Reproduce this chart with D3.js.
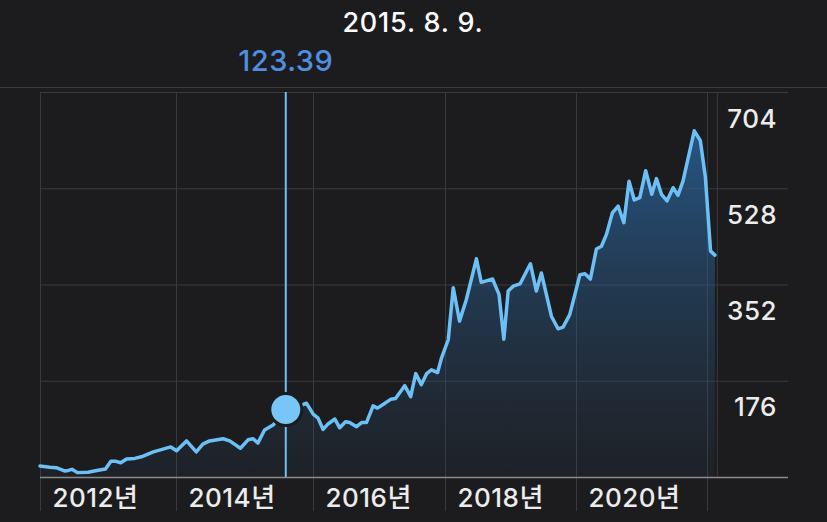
<!DOCTYPE html>
<html>
<head>
<meta charset="utf-8">
<script src="https://cdn.jsdelivr.net/npm/d3@7/dist/d3.min.js"></script>
<style>
  html, body { margin: 0; padding: 0; background: #1c1c1e; }
  svg { display: block; }
  text { font-family: Inter, "Noto Sans CJK KR", "Noto Sans", sans-serif; }
</style>
</head>
<body>
<svg id="chart" width="827" height="522"></svg>
<script>
// ---- data ----
const dates = [
  "2012-01-01","2012-02-23","2012-03-28","2012-05-12","2012-06-01","2012-06-21","2012-07-20","2012-09-15","2012-11-01","2012-12-18",
  "2013-01-16","2013-02-08","2013-03-10","2013-04-10","2013-05-24","2013-06-29","2013-09-01","2013-10-23","2013-12-04",
  "2014-01-04","2014-02-26","2014-04-19","2014-05-24","2014-06-29","2014-09-09","2014-10-14","2014-12-10",
  "2015-01-20","2015-02-16","2015-03-13","2015-04-18","2015-06-02","2015-08-09","2015-10-01","2015-11-27",
  "2016-01-02","2016-01-29","2016-02-26","2016-03-24","2016-05-01","2016-05-28","2016-06-29","2016-07-22","2016-08-29","2016-09-26","2016-10-23","2016-11-29","2016-12-23",
  "2017-02-03","2017-03-06","2017-04-02","2017-05-23","2017-06-25","2017-07-23","2017-08-23","2017-09-21","2017-10-18","2017-11-21","2017-12-13",
  "2018-01-19","2018-02-16","2018-03-23","2018-04-30","2018-06-25","2018-07-22","2018-09-23","2018-10-29","2018-11-25","2018-12-19",
  "2019-01-16","2019-02-23","2019-04-22","2019-05-25","2019-06-22","2019-08-17","2019-09-23","2019-10-21","2019-11-27","2019-12-26",
  "2020-01-23","2020-02-20","2020-03-21","2020-04-24","2020-05-22","2020-06-19","2020-07-22","2020-08-23","2020-09-24","2020-10-23","2020-11-21","2020-12-22",
  "2021-01-24","2021-02-27","2021-03-25","2021-04-22","2021-05-23","2021-06-26","2021-07-23","2021-08-20","2021-10-22","2021-11-25","2021-12-23",
  "2022-01-21","2022-02-14"
];
const values = [
  20, 18, 17, 11, 12, 14, 8, 8.6, 12, 14.7,
  29, 29, 26, 33, 34, 37, 46, 51, 55,
  48, 66, 46, 60, 66, 70, 66, 52.6,
  68, 70, 62, 86, 95, 123.39, 127, 135,
  115, 107.6, 87, 97, 106, 90, 101, 99.6, 92, 99.6, 99.6, 130, 126,
  135, 142, 143.5, 167, 147, 189, 169, 189, 196, 191, 218,
  251, 346, 285, 324.5, 399, 356, 362, 334, 252, 340,
  349, 353, 390, 340, 373, 294, 271, 274, 297, 334,
  370, 371.5, 362, 417, 422, 443.6, 483, 495.5, 465, 541, 506.5, 511,
  560, 517, 545.7, 517, 505, 529, 515, 541, 633, 615, 548,
  413, 405.7
];
const yTickValues = [176, 352, 528, 704];
const xGridDates = ["2012-01-01","2014-01-01","2016-01-01","2018-01-01","2020-01-01","2022-01-01"];
const xTickLabels = ["2012년","2014년","2016년","2018년","2020년",""];
const selectedDate = "2015-08-09";
const selectedValue = 123.39;
const selectedLabel = "2015. 8. 9.";
const endDate = "2022-02-25";

// ---- scales ----
const parse = d3.timeParse("%Y-%m-%d");
const data = dates.map((d, i) => ({ date: parse(d), value: values[i] }));

const x = d3.scaleTime()
  .domain(xGridDates.map(parse))
  .range([40, 176, 313, 445, 576, 707]);
const y = d3.scaleLinear().domain([0, 704]).range([477, 92]);

const svg = d3.select("#chart");

svg.append("rect").attr("width", 827).attr("height", 522).attr("fill", "#1c1c1e");

// header separator
svg.append("line").attr("x1", 0).attr("x2", 827).attr("y1", 87.5).attr("y2", 87.5)
  .attr("stroke", "#3c3c3f").attr("stroke-width", 1);

// gradient
const defs = svg.append("defs");
const grad = defs.append("linearGradient").attr("id", "fillGrad")
  .attr("gradientUnits", "userSpaceOnUse").attr("x1", 0).attr("x2", 0)
  .attr("y1", y(640)).attr("y2", y(0));
grad.append("stop").attr("offset", "0%").attr("stop-color", "#2a6aa8").attr("stop-opacity", 0.75);
grad.append("stop").attr("offset", "100%").attr("stop-color", "#2a4a6a").attr("stop-opacity", 0.12);

// y grid + labels
const yAxis = svg.append("g").attr("transform", "translate(40,0)")
  .call(d3.axisRight(y).tickValues(yTickValues).tickSize(748).tickFormat(d3.format("d")));
yAxis.select(".domain").remove();
yAxis.selectAll(".tick line").attr("stroke", "#3a3a3d").attr("stroke-width", 1);
yAxis.selectAll(".tick text")
  .attr("x", 737).attr("y", 35).attr("dy", 0)
  .attr("text-anchor", "end")
  .attr("fill", "#ececec")
  .attr("font-size", 26)
  .attr("font-weight", 500)
  .attr("letter-spacing", 0.5);

// x grid + labels
const xAxis = svg.append("g").attr("transform", "translate(0,511)")
  .call(d3.axisBottom(x).tickValues(xGridDates.map(parse)).tickSize(-419)
    .tickFormat((d, i) => xTickLabels[i]));
xAxis.select(".domain").remove();
xAxis.selectAll(".tick line").attr("stroke", "#3a3a3d").attr("stroke-width", 1);
xAxis.selectAll(".tick text")
  .attr("x", 12).attr("y", -4).attr("dy", 0)
  .attr("text-anchor", "start")
  .attr("fill", "#ececec")
  .attr("font-size", 26)
  .attr("font-weight", 500)
  .attr("letter-spacing", 0.5);

// end line
svg.append("line")
  .attr("x1", x(parse(endDate)) + 0.5).attr("x2", x(parse(endDate)) + 0.5)
  .attr("y1", 92).attr("y2", 477)
  .attr("stroke", "#3a3a3d").attr("stroke-width", 1);

// area
const area = d3.area().x(d => x(d.date)).y0(y(0)).y1(d => y(d.value));
svg.append("path").datum(data).attr("d", area).attr("fill", "url(#fillGrad)");

// bottom axis line
svg.append("line").attr("x1", 40).attr("x2", 788).attr("y1", 477.5).attr("y2", 477.5)
  .attr("stroke", "#8a8a8e").attr("stroke-width", 1.5);

// line
const line = d3.line().x(d => x(d.date)).y(d => y(d.value));
svg.append("path").datum(data).attr("d", line)
  .attr("fill", "none").attr("stroke", "#6cc0f5").attr("stroke-width", 3.5)
  .attr("stroke-linejoin", "round").attr("stroke-linecap", "round");

// selection
const sx = x(parse(selectedDate));
svg.append("line").attr("x1", sx).attr("x2", sx).attr("y1", 92).attr("y2", 477)
  .attr("stroke", "#6cc0f5").attr("stroke-width", 2);
svg.append("circle").attr("cx", sx).attr("cy", y(selectedValue)).attr("r", 16)
  .attr("fill", "#78c6f8").attr("stroke", "#1c1c1e").attr("stroke-width", 3);

// header texts
svg.append("text").attr("x", 413).attr("y", 32).attr("text-anchor", "middle")
  .attr("fill", "#ffffff").attr("font-size", 27).attr("font-weight", 500)
  .attr("letter-spacing", 0.8)
  .text(selectedLabel);
svg.append("text").attr("x", sx).attr("y", 71).attr("text-anchor", "middle")
  .attr("fill", "#4f8fe0").attr("font-size", 29).attr("font-weight", 500)
  .attr("letter-spacing", 0.5)
  .text(d3.format(".2f")(selectedValue));
</script>
</body>
</html>
